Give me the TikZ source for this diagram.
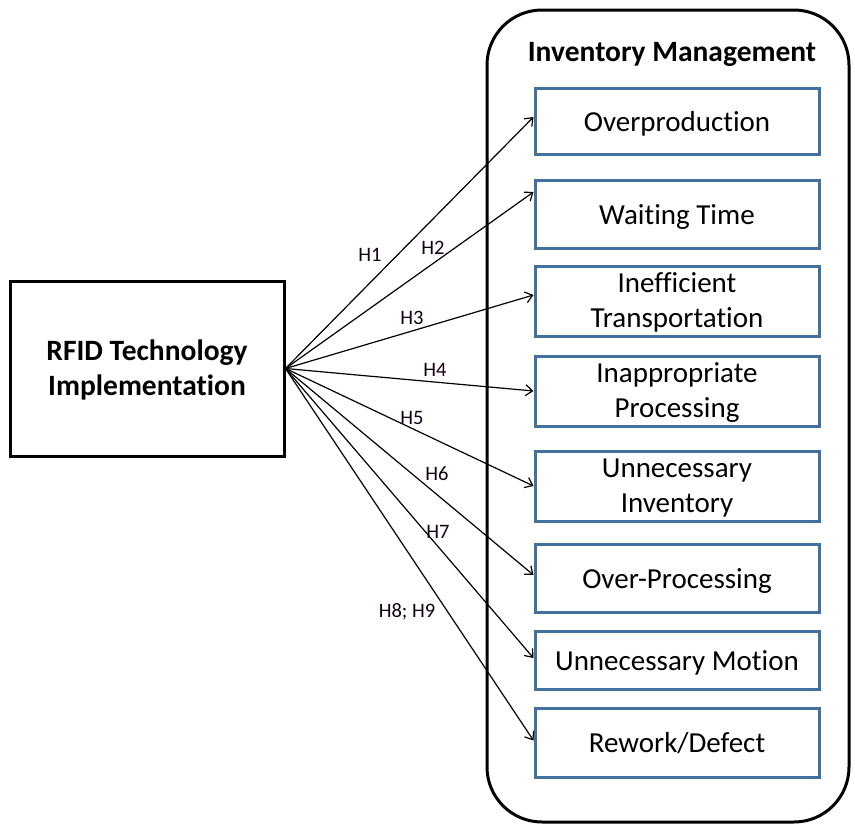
\documentclass[tikz,border=0pt]{standalone}
\usepackage{fontspec}
\setmainfont[Ligatures={NoCommon}]{Carlito}
\usetikzlibrary{arrows.meta}
\definecolor{boxblue}{HTML}{41719C}
\tikzset{
  outerbox/.style={draw=black, line width=3pt, inner sep=0pt, align=center},
  wastebox/.style={draw=boxblue, line width=3pt, minimum width=284pt, inner sep=0pt,
    align=center, font=\fontsize{29}{35}\selectfont},
  oneline/.style={text height=26pt, text depth=6pt},
  twoline/.style={text height=61pt, text depth=9pt},
  link/.style={draw=black, line width=1.2pt, -{Straight Barb[length=7pt,width=11pt,line width=1.2pt]}},
  hlabel/.style={font=\fontsize{20.5}{22}\selectfont, text=black!85!violet, inner sep=0pt}
}
\begin{document}
\begin{tikzpicture}[x=1pt,y=-1pt]
  \useasboundingbox (0,0) rectangle (855,825);

  % source construct
  \node[outerbox, minimum width=274pt, minimum height=175pt,
        text height=61pt, text depth=8pt,
        font=\bfseries\fontsize{29.5}{35}\selectfont] (rfid) at (147,368.5)
        {RFID Technology\\Implementation};

  % inventory management container
  \node[outerbox, rounded corners=55pt, minimum width=362pt, minimum height=812pt]
        (im) at (668,416) {};
  \node[font=\bfseries\fontsize{29.5}{32}\selectfont, inner sep=0pt] (imtitle) at (672,54)
        {Inventory Management};

  % the eight wastes
  \node[wastebox, oneline, minimum height=66pt] (b1) at (677,121) {Overproduction};
  \node[wastebox, oneline, minimum height=68pt] (b2) at (677,214) {Waiting Time};
  \node[wastebox, twoline, minimum height=68pt] (b3) at (677,301) {Inefficient\\Transportation};
  \node[wastebox, twoline, minimum height=68pt] (b4) at (677,391) {Inappropriate\\Processing};
  \node[wastebox, twoline, minimum height=68pt] (b5) at (677,486) {Unnecessary\\Inventory};
  \node[wastebox, oneline, minimum height=68pt] (b6) at (677,578) {Over-Processing};
  \node[wastebox, oneline, minimum height=58pt] (b7) at (677,660) {Unnecessary Motion};
  \node[wastebox, oneline, minimum height=69pt] (b8) at (677,742.5) {Rework/Defect};

  % hypotheses
  \draw[link] (rfid.east) -- ([yshift=4pt]b1.west);
  \draw[link] (rfid.east) -- ([yshift=22pt]b2.west);
  \draw[link] (rfid.east) -- ([yshift=6pt]b3.west);
  \draw[link] (rfid.east) -- (b4.west);
  \draw[link] (rfid.east) -- (b5.west);
  \draw[link] (rfid.east) -- ([yshift=3pt]b6.west);
  \draw[link] (rfid.east) -- ([yshift=2pt]b7.west);
  \draw[link] (rfid.east) -- ([yshift=2pt]b8.west);

  \node[hlabel] (h1) at (370,255) {H1};
  \node[hlabel] (h2) at (433,248) {H2};
  \node[hlabel] (h3) at (412,318) {H3};
  \node[hlabel] (h4) at (435,370) {H4};
  \node[hlabel] (h5) at (412,418) {H5};
  \node[hlabel] (h6) at (437,474) {H6};
  \node[hlabel] (h7) at (438,532) {H7};
  \node[hlabel] (h89) at (407,612) {H8; H9};
\end{tikzpicture}
\end{document}
